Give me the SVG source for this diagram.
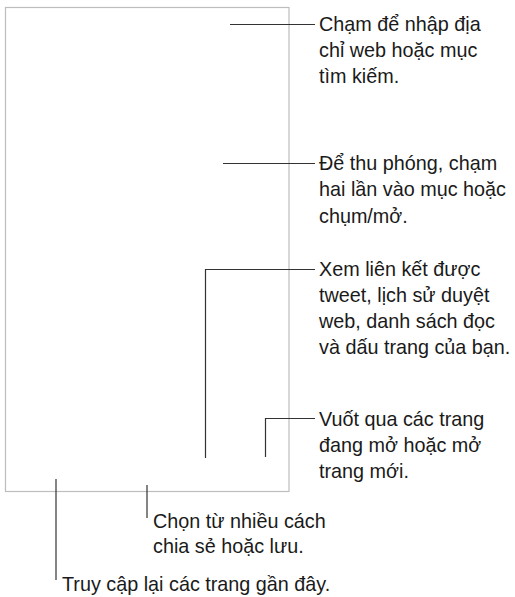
<svg xmlns="http://www.w3.org/2000/svg" width="515" height="597" viewBox="0 0 515 597">
<style>
.t{font-family:"Liberation Sans",Arial,sans-serif;font-size:19.8px;fill:#1a1a1a}
.c{stroke:#333;stroke-width:1.2;fill:none}
</style>
<rect width="515" height="597" fill="#fff"/>
<g id="screen"><rect x="5.5" y="7.5" width="283.5" height="484" fill="none" stroke="#bdbdbd" stroke-width="1.2"/></g>
<g id="connectors">
<path class="c" d="M230 24.5H315"/>
<path class="c" d="M223 163.5H315"/>
<path class="c" d="M315 269.5H205.5V458"/>
<path class="c" d="M315 418.5H265.5V457"/>
<path class="c" d="M147 485V518"/>
<path class="c" d="M56 479V580"/>
</g>
<g id="label1"><text class="t" x="319" y="31">Chạm để nhập địa</text><text class="t" x="319" y="57">chỉ web hoặc mục</text><text class="t" x="319" y="83">tìm kiếm.</text></g>
<g id="label2"><text class="t" x="319" y="170">Để thu phóng, chạm</text><text class="t" x="319" y="196">hai lần vào mục hoặc</text><text class="t" x="319" y="223">chụm/mở.</text></g>
<g id="label3"><text class="t" x="319" y="276">Xem liên kết được</text><text class="t" x="319" y="302">tweet, lịch sử duyệt</text><text class="t" x="319" y="328">web, danh sách đọc</text><text class="t" x="319" y="354">và dấu trang của bạn.</text></g>
<g id="label4"><text class="t" x="319" y="426">Vuốt qua các trang</text><text class="t" x="319" y="452">đang mở hoặc mở</text><text class="t" x="319" y="478">trang mới.</text></g>
<g id="label5"><text class="t" x="153" y="528">Chọn từ nhiều cách</text><text class="t" x="153" y="553">chia sẻ hoặc lưu.</text></g>
<g id="label6"><text class="t" x="62" y="591">Truy cập lại các trang gần đây.</text></g>
</svg>
